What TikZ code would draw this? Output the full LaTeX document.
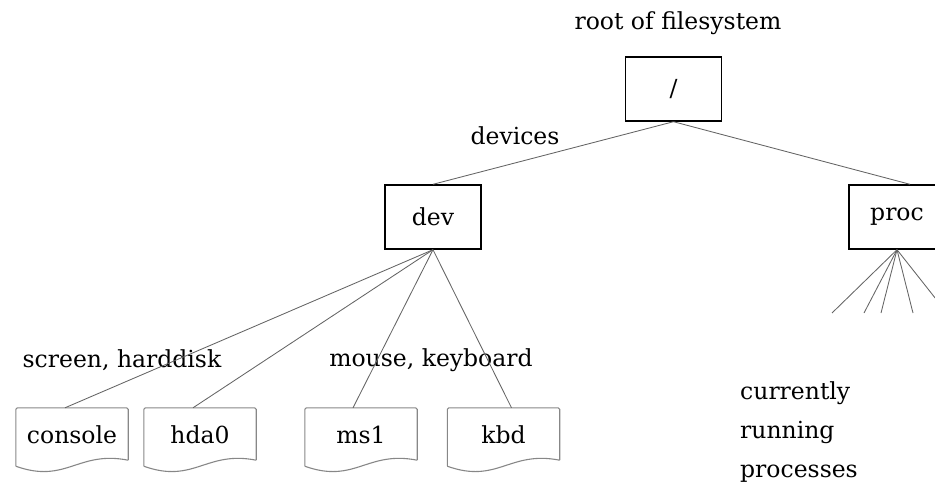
\documentclass[tikz,border=0pt]{standalone}
\usepackage{fontspec}
\setmainfont{DejaVu Serif}
\usetikzlibrary{calc}
\definecolor{linkgray}{RGB}{100,100,100}
\definecolor{docgray}{RGB}{135,135,135}
\begin{document}
\begin{tikzpicture}[x=1pt,y=-1pt,
  every node/.style={font=\fontsize{23.5}{39}\selectfont, inner sep=0pt},
  dirbox/.style={draw=black, line width=1.4pt, minimum width=96pt, minimum height=64pt},
  docnode/.style={minimum width=112pt, minimum height=54pt},
  docline/.style={draw=docgray, line width=1.1pt, rounded corners=1.5pt},
  link/.style={draw=linkgray, line width=0.85pt},
  lbl/.style={anchor=center}]
\useasboundingbox (0,0) rectangle (935,483);
\begin{scope}
\clip (0,0) rectangle (935,483);

% directory nodes
\node[dirbox] (root) at (673.5,89) {/};
\node[dirbox] (dev)  at (433,217) {dev};
\node[dirbox] (proc) at (897,217) {proc};

% device files
\node[docnode] (console) at (72,435)  {console};
\node[docnode] (hda0)    at (200,435) {hda0};
\node[docnode] (ms1)     at (361,435) {ms1};
\node[docnode] (kbd)     at (503.5,435) {kbd};

% document outlines with wavy bottom
\foreach \n in {console,hda0,ms1,kbd}{
  \path[docline]
    ($(\n.south west)+(0,4)$) -- (\n.north west) -- (\n.north east) -- ($(\n.south east)+(0,-2)$);
  \draw[docgray, line width=1.1pt]
    ($(\n.south east)+(0,-2)$)
      .. controls ($(\n.south)+(6,-12)$) and ($(\n.south)+(-6,22)$) ..
    ($(\n.south west)+(0,4)$);
}

% labels
\node[lbl] (rootlbl) at (678,23) {root of filesystem};
\node[lbl] (devlbl)  at (515,136) {devices};
\node[lbl] (scrlbl)  at (122,360) {screen, harddisk};
\node[lbl] (mslbl)   at (431,360) {mouse, keyboard};
\node[anchor=north west, align=left] (proclbl) at (740,381) {currently\\running\\processes};

% tree connectors
\draw[link] (root.south) -- (dev.north);
\draw[link] (root.south) -- ([xshift=13pt]proc.north);
\draw[link] (dev.south) -- ([xshift=-7pt]console.north);
\draw[link] (dev.south) -- ([xshift=-7pt]hda0.north);
\draw[link] (dev.south) -- ([xshift=-8pt]ms1.north);
\draw[link] (dev.south) -- ([xshift=8pt]kbd.north);

% process fan
\coordinate (p1) at (832,313);
\coordinate (p2) at (864,313);
\coordinate (p3) at (881,313);
\coordinate (p4) at (913,313);
\coordinate (p5) at (947,313);
\foreach \p in {p1,p2,p3,p4,p5}
  \draw[link] (proc.south) -- (\p);
\end{scope}
\end{tikzpicture}
\end{document}
